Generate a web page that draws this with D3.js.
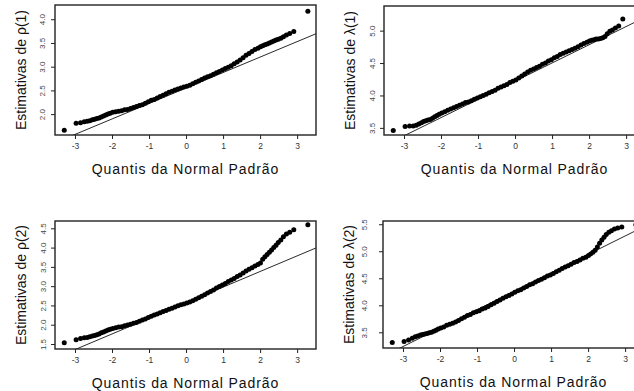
<!DOCTYPE html>
<html>
<head>
<meta charset="utf-8">
<script src="https://cdn.jsdelivr.net/npm/d3@7"></script>
<style>
  body { margin: 0; background: #fff; }
  svg { display: block; font-family: "Liberation Sans", Arial, sans-serif; }
</style>
</head>
<body>
<svg id="vis" width="634" height="391"></svg>
<script>
// Theoretical normal quantiles of the plotted sample points (x axis)
var quantis = [
  -3.29, -2.97, -2.85, -2.75, -2.67, -2.60, -2.53, -2.47, -2.41, -2.35, -2.29, -2.23, -2.17, -2.11, -2.05,
  -1.98, -1.90, -1.82, -1.74, -1.66, -1.58, -1.50, -1.42, -1.34, -1.26, -1.18, -1.10, -1.02, -0.94, -0.86,
  -0.78, -0.70, -0.62, -0.54, -0.46, -0.38, -0.30, -0.22, -0.14, -0.06, 0.02, 0.10, 0.18, 0.26, 0.34,
  0.42, 0.50, 0.58, 0.66, 0.74, 0.82, 0.90, 0.98, 1.06, 1.14, 1.22, 1.30, 1.38, 1.46, 1.54,
  1.62, 1.70, 1.78, 1.86, 1.94, 2.01, 2.07, 2.13, 2.19, 2.25, 2.31, 2.37, 2.43, 2.49, 2.56,
  2.63, 2.71, 2.80, 2.91, 3.29
];

// Ordered estimates, one per quantile
var rho1 = [
  1.66, 1.81, 1.82, 1.84, 1.85, 1.86, 1.88, 1.89, 1.91, 1.92, 1.94, 1.96, 1.98, 2.00, 2.02,
  2.04, 2.05, 2.06, 2.07, 2.09, 2.10, 2.12, 2.14, 2.16, 2.18, 2.20, 2.23, 2.26, 2.29, 2.31,
  2.34, 2.37, 2.40, 2.43, 2.46, 2.48, 2.51, 2.53, 2.55, 2.57, 2.59, 2.61, 2.64, 2.67, 2.70,
  2.73, 2.76, 2.79, 2.81, 2.84, 2.87, 2.90, 2.93, 2.96, 2.99, 3.02, 3.06, 3.10, 3.14, 3.19,
  3.24, 3.28, 3.32, 3.36, 3.39, 3.42, 3.44, 3.46, 3.48, 3.50, 3.52, 3.54, 3.56, 3.58, 3.60,
  3.63, 3.67, 3.70, 3.74, 4.17
];
var lambda1 = [
  3.46, 3.52, 3.53, 3.53, 3.54, 3.56, 3.58, 3.60, 3.61, 3.62, 3.63, 3.65, 3.67, 3.69, 3.71,
  3.73, 3.75, 3.77, 3.79, 3.81, 3.83, 3.85, 3.87, 3.89, 3.90, 3.92, 3.94, 3.96, 3.98, 4.00,
  4.02, 4.04, 4.06, 4.08, 4.11, 4.13, 4.15, 4.17, 4.20, 4.22, 4.24, 4.27, 4.30, 4.33, 4.36,
  4.39, 4.41, 4.43, 4.45, 4.48, 4.50, 4.53, 4.55, 4.58, 4.60, 4.63, 4.65, 4.67, 4.69, 4.71,
  4.73, 4.75, 4.78, 4.80, 4.82, 4.84, 4.85, 4.86, 4.87, 4.87, 4.88, 4.89, 4.91, 4.95, 4.99,
  5.01, 5.04, 5.07, 5.18, 5.30
];
var rho2 = [
  1.53, 1.61, 1.64, 1.66, 1.67, 1.69, 1.71, 1.72, 1.74, 1.76, 1.79, 1.81, 1.84, 1.86, 1.88,
  1.90, 1.92, 1.94, 1.95, 1.97, 1.99, 2.01, 2.04, 2.06, 2.09, 2.12, 2.15, 2.19, 2.22, 2.25,
  2.28, 2.31, 2.34, 2.37, 2.40, 2.43, 2.46, 2.49, 2.52, 2.54, 2.56, 2.59, 2.62, 2.66, 2.70,
  2.74, 2.78, 2.82, 2.86, 2.90, 2.95, 2.99, 3.03, 3.07, 3.12, 3.16, 3.20, 3.25, 3.29, 3.34,
  3.39, 3.44, 3.48, 3.52, 3.56, 3.60, 3.70, 3.76, 3.82, 3.88, 3.94, 4.00, 4.06, 4.13, 4.20,
  4.28, 4.35, 4.40, 4.46, 4.59
];
var lambda2 = [
  3.31, 3.33, 3.36, 3.39, 3.42, 3.43, 3.45, 3.46, 3.47, 3.48, 3.49, 3.50, 3.52, 3.54, 3.56,
  3.58, 3.60, 3.63, 3.65, 3.67, 3.69, 3.72, 3.75, 3.78, 3.81, 3.83, 3.86, 3.88, 3.90, 3.93,
  3.95, 3.98, 4.01, 4.04, 4.07, 4.10, 4.13, 4.16, 4.18, 4.21, 4.24, 4.27, 4.29, 4.32, 4.35,
  4.38, 4.40, 4.43, 4.46, 4.48, 4.51, 4.54, 4.56, 4.59, 4.62, 4.65, 4.68, 4.71, 4.73, 4.76,
  4.79, 4.81, 4.84, 4.87, 4.89, 4.92, 4.95, 4.98, 5.02, 5.08, 5.15, 5.21, 5.26, 5.31, 5.35,
  5.38, 5.41, 5.43, 5.45, 5.49
];

// Reference lines (intercept, slope)
var lineRho1 = [2.55, 0.326],
    lineLambda1 = [4.22, 0.281],
    lineRho2 = [2.57, 0.405],
    lineLambda2 = [4.26, 0.341];

// Tick labels
var xTicks = [-3, -2, -1, 0, 1, 2, 3];
var ticksRho1 = [2.0, 2.5, 3.0, 3.5, 4.0],
    ticksLambda1 = [3.5, 4.0, 4.5, 5.0],
    ticksRho2 = [1.5, 2.0, 2.5, 3.0, 3.5, 4.0, 4.5],
    ticksLambda2 = [3.5, 4.0, 4.5, 5.0, 5.5];

var xLabel = 'Quantis da Normal Padrão';

// Layout of the four panels //////////////////////////////////////////////////
var panels = [
  { values: rho1,    line: lineRho1,    ticks: ticksRho1,    label: 'Estimativas de ρ(1)',
    left: 55,  top: 5,   width: 261, height: 130, ydom: [1.56, 4.30], tickGap: 10 },
  { values: lambda1, line: lineLambda1, ticks: ticksLambda1, label: 'Estimativas de  λ(1)',
    left: 384, top: 6,   width: 261, height: 129, ydom: [3.39, 5.38], tickGap: 9 },
  { values: rho2,    line: lineRho2,    ticks: ticksRho2,    label: 'Estimativas de ρ(2)',
    left: 55,  top: 221, width: 261, height: 128, ydom: [1.37, 4.69], tickGap: 9 },
  { values: lambda2, line: lineLambda2, ticks: ticksLambda2, label: 'Estimativas de  λ(2)',
    left: 383, top: 221, width: 261, height: 127, ydom: [3.21, 5.56], tickGap: 16 }
];

var vis = d3.select('#vis');

panels.forEach(function(p, i) {
  var g = vis.append('g').attr('transform', 'translate(' + p.left + ',' + p.top + ')');
  var x = d3.scaleLinear().domain([-3.54, 3.51]).range([0, p.width]);
  var y = d3.scaleLinear().domain(p.ydom).range([p.height, 0]);

  vis.append('clipPath').attr('id', 'clip' + i).append('rect')
    .attr('width', p.width).attr('height', p.height);

  // reference line
  g.append('line')
    .attr('clip-path', 'url(#clip' + i + ')')
    .attr('x1', x(-3.54)).attr('y1', y(p.line[0] + p.line[1] * -3.54))
    .attr('x2', x(3.51)).attr('y2', y(p.line[0] + p.line[1] * 3.51))
    .attr('stroke', '#111').attr('stroke-width', 0.9);

  // points
  g.append('g').selectAll('circle')
    .data(quantis.map(function(q, k) { return [q, p.values[k]]; }))
    .enter().append('circle')
    .attr('cx', function(d) { return x(d[0]); })
    .attr('cy', function(d) { return y(d[1]); })
    .attr('r', 2.5)
    .attr('fill', '#000');

  // box
  g.append('rect').attr('width', p.width).attr('height', p.height)
    .attr('fill', 'none').attr('stroke', '#222').attr('stroke-width', 1.4);

  // x axis
  var xa = g.append('g').attr('transform', 'translate(0,' + p.height + ')')
    .call(d3.axisBottom(x).tickValues(xTicks).tickSize(4).tickPadding(4)
      .tickFormat(function(d) { return String(d); }));
  xa.select('.domain').remove();
  xa.selectAll('line').attr('stroke', '#222');
  xa.selectAll('text').attr('font-size', 8.5).attr('fill', '#333').attr('font-family', null);

  // y axis
  var ya = g.append('g')
    .call(d3.axisLeft(y).tickValues(p.ticks).tickSize(4)
      .tickFormat(d3.format('.1f')));
  ya.select('.domain').remove();
  ya.selectAll('line').attr('stroke', '#222');
  ya.selectAll('text')
    .attr('x', 0).attr('y', -p.tickGap).attr('dy', 0)
    .attr('transform', 'rotate(-90)')
    .attr('text-anchor', 'middle')
    .attr('font-size', 8).attr('fill', '#444').attr('font-family', null);

  // axis titles
  g.append('text')
    .attr('x', p.width / 2).attr('y', p.height + 39)
    .attr('text-anchor', 'middle').attr('font-size', 14)
    .attr('letter-spacing', 0.9).attr('fill', '#111')
    .text(xLabel);
  g.append('text')
    .attr('transform', 'translate(-29,' + (p.height / 2) + ') rotate(-90)')
    .attr('text-anchor', 'middle').attr('font-size', 14).attr('fill', '#111')
    .text(p.label);
});
</script>
</body>
</html>
